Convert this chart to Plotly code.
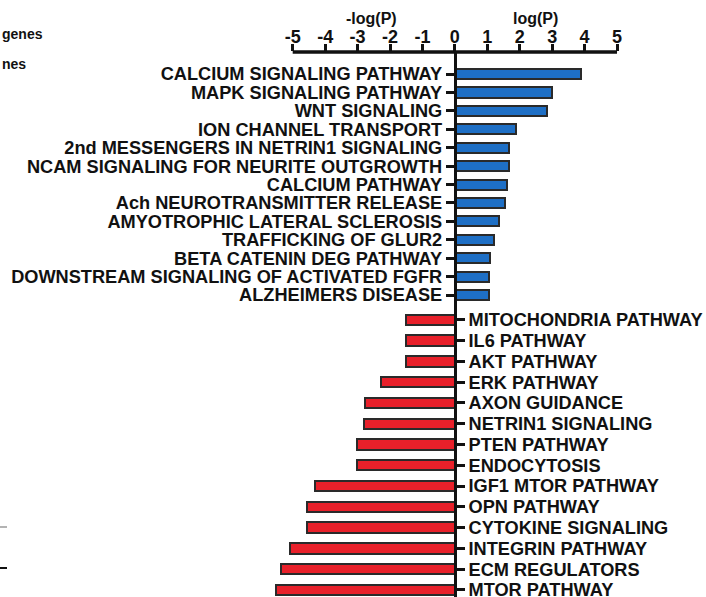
import plotly.graph_objects as go

# Pathways enriched among up-regulated genes (log P, plotted to the right)
up_pathways = [
    "CALCIUM SIGNALING PATHWAY",
    "MAPK SIGNALING PATHWAY",
    "WNT SIGNALING",
    "ION CHANNEL TRANSPORT",
    "2nd MESSENGERS IN NETRIN1 SIGNALING",
    "NCAM SIGNALING FOR NEURITE OUTGROWTH",
    "CALCIUM PATHWAY",
    "Ach NEUROTRANSMITTER RELEASE",
    "AMYOTROPHIC LATERAL SCLEROSIS",
    "TRAFFICKING OF GLUR2",
    "BETA CATENIN DEG PATHWAY",
    "DOWNSTREAM SIGNALING OF ACTIVATED FGFR",
    "ALZHEIMERS DISEASE",
]
up_logp = [3.89, 2.98, 2.83, 1.88, 1.66, 1.67, 1.60, 1.56, 1.37, 1.22, 1.08, 1.04, 1.04]

# Pathways enriched among down-regulated genes (-log P, plotted to the left)
down_pathways = [
    "MITOCHONDRIA PATHWAY",
    "IL6 PATHWAY",
    "AKT PATHWAY",
    "ERK PATHWAY",
    "AXON GUIDANCE",
    "NETRIN1 SIGNALING",
    "PTEN PATHWAY",
    "ENDOCYTOSIS",
    "IGF1 MTOR PATHWAY",
    "OPN PATHWAY",
    "CYTOKINE SIGNALING",
    "INTEGRIN PATHWAY",
    "ECM REGULATORS",
    "MTOR PATHWAY",
]
down_neglogp = [-1.51, -1.51, -1.51, -2.28, -2.77, -2.80, -3.03, -3.03,
                -4.32, -4.55, -4.55, -5.09, -5.37, -5.53]

tick_vals = [-5, -4, -3, -2, -1, 0, 1, 2, 3, 4, 5]
tick_text = [str(v) for v in tick_vals]

W, H = 706, 597
X_MIN, X_MAX = -5.7, 5.4
M_L, M_R, M_T, M_B = 270, 76, 52, 0
PLOT_W = W - M_L - M_R
PLOT_H = H - M_T - M_B
ZERO_POS = (0 - X_MIN) / (X_MAX - X_MIN)
SPLIT = (H - 307) / PLOT_H

FONT = "Liberation Sans, Arial, Helvetica, sans-serif"
INK = "#111111"
EDGE = "#2a2a2a"
BLUE = "#1e6fc5"
RED = "#e8202a"


def px_x(px):
    return (px - M_L) / PLOT_W


def px_y(py):
    return (H - M_B - py) / PLOT_H


fig = go.Figure()

fig.add_trace(go.Bar(
    x=up_logp, y=up_pathways, orientation="h",
    xaxis="x2", yaxis="y2", width=0.55,
    marker=dict(color=BLUE, line=dict(color=EDGE, width=2)),
    showlegend=False,
))
fig.add_trace(go.Bar(
    x=down_neglogp, y=down_pathways, orientation="h",
    xaxis="x", yaxis="y", width=0.5,
    marker=dict(color=RED, line=dict(color=EDGE, width=2)),
    showlegend=False,
))

label_font = dict(family=FONT, size=18.2, color=INK, weight="bold")
cat_axis = dict(
    type="category", categoryorder="array",
    tickmode="array",
    showline=True, linecolor=INK, linewidth=3,
    ticks="outside", ticklen=8, tickwidth=3, tickcolor=INK,
    tickfont=label_font, showgrid=False, zeroline=False,
    automargin=False, anchor="free", position=ZERO_POS,
)

fig.update_layout(
    width=W, height=H,
    margin=dict(l=M_L, r=M_R, t=M_T, b=M_B),
    paper_bgcolor="white", plot_bgcolor="white",
    font=dict(family=FONT, color=INK),
    bargap=0,
    xaxis=dict(
        domain=[0, 1], anchor="y", range=[X_MIN, X_MAX],
        visible=False, showgrid=False, zeroline=False,
    ),
    yaxis=dict(
        cat_axis, domain=[0, SPLIT],
        categoryarray=down_pathways,
        tickvals=down_pathways, ticktext=down_pathways,
        range=[13.34, -0.62], side="right",
    ),
    xaxis2=dict(
        domain=[0, 1], anchor="y2", range=[X_MIN, X_MAX], side="top",
        tickmode="array", tickvals=tick_vals, ticktext=tick_text,
        ticks="outside", ticklen=7, tickwidth=3, tickcolor=INK,
        ticklabelstandoff=-6,
        tickfont=dict(family=FONT, size=18, color=INK, weight="bold"),
        showline=False, showgrid=False, zeroline=False, automargin=False,
    ),
    yaxis2=dict(
        cat_axis, domain=[SPLIT, 1],
        categoryarray=up_pathways,
        tickvals=up_pathways, ticktext=up_pathways,
        range=[12.65, -1.2], side="left",
    ),
)

# Horizontal axis line spanning the labelled range only
fig.add_shape(type="line", xref="x2", yref="y2 domain",
              x0=tick_vals[0], x1=tick_vals[-1], y0=1, y1=1,
              line=dict(color=INK, width=3.5))

title_font = dict(family=FONT, size=16, color=INK, weight="bold")
fig.add_annotation(text="-log(P)", xref="x2", yref="paper", x=-2.56,
                   y=px_y(18), showarrow=False, font=title_font,
                   xanchor="center", yanchor="middle")
fig.add_annotation(text="log(P)", xref="x2", yref="paper", x=2.48,
                   y=px_y(18), showarrow=False, font=title_font,
                   xanchor="center", yanchor="middle")

# Legend fragments at the left edge
legend_font = dict(family=FONT, size=14, color=INK, weight="bold")
fig.add_annotation(text="genes", xref="paper", yref="paper", x=px_x(0),
                   y=px_y(34), showarrow=False, font=legend_font,
                   xanchor="left", yanchor="middle")
fig.add_annotation(text="nes", xref="paper", yref="paper", x=px_x(0),
                   y=px_y(64), showarrow=False, font=legend_font,
                   xanchor="left", yanchor="middle")
fig.add_shape(type="line", xref="paper", yref="paper",
              x0=px_x(0), x1=px_x(7), y0=px_y(527), y1=px_y(527),
              line=dict(color="#9a9a9a", width=1.5))
fig.add_shape(type="line", xref="paper", yref="paper",
              x0=px_x(0), x1=px_x(7), y0=px_y(568), y1=px_y(568),
              line=dict(color=INK, width=2))

fig.write_html("out.html")
